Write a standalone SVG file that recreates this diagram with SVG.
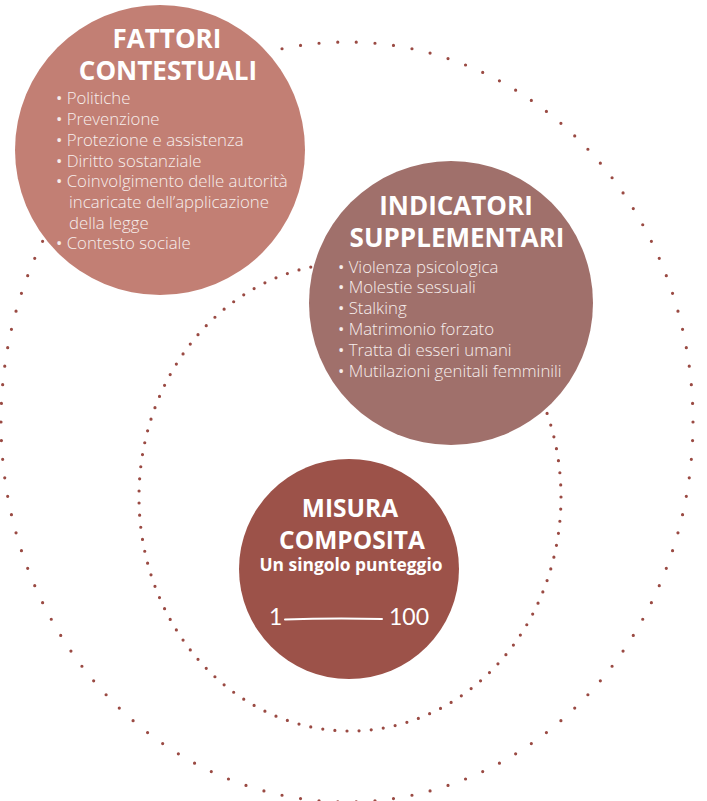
<svg xmlns="http://www.w3.org/2000/svg" width="707" height="801" viewBox="0 0 707 801">
<style>
.ring{fill:none;stroke:#9a4a43;stroke-width:3.2;stroke-linecap:round;stroke-dasharray:0 1}
.title{font-family:"Open Sans","Noto Sans",sans-serif;font-weight:700;fill:#ffffff;text-anchor:middle}
.item{font-family:"Open Sans","Noto Sans",sans-serif;font-weight:300;font-size:16.8px;fill:#f7eeec}
.b{font-weight:400}
.sub{font-family:"Open Sans","Noto Sans",sans-serif;font-weight:700;font-size:17.4px;fill:#ffffff;text-anchor:middle}
.hand{font-family:"Lato","Open Sans",sans-serif;font-weight:400;font-size:23px;fill:#ffffff}
</style>
<rect width="707" height="801" fill="#ffffff"/>
<g id="rings">
<ellipse class="ring" cx="347" cy="422" rx="346" ry="380" pathLength="122"/>
<ellipse class="ring" cx="350" cy="497" rx="211" ry="234" pathLength="115"/>
</g>
<g id="fattori">
<circle cx="160" cy="150" r="145" fill="#c27f74"/>
<text class="title" font-size="26"><tspan x="167" y="48">FATTORI</tspan><tspan x="168" y="80">CONTESTUALI</tspan></text>
<text class="item"><tspan x="56" y="104"><tspan class="b">•</tspan> Politiche</tspan><tspan x="56" y="124.5"><tspan class="b">•</tspan> Prevenzione</tspan><tspan x="56" y="145.5"><tspan class="b">•</tspan> Protezione e assistenza</tspan><tspan x="56" y="166.5"><tspan class="b">•</tspan> Diritto sostanziale</tspan><tspan x="56" y="187"><tspan class="b">•</tspan> Coinvolgimento delle autorità</tspan><tspan x="69" y="207.5">incaricate dell’applicazione</tspan><tspan x="69" y="228.5">della legge</tspan><tspan x="56" y="249"><tspan class="b">•</tspan> Contesto sociale</tspan></text>
</g>
<g id="indicatori">
<circle cx="451" cy="303" r="142" fill="#a0706b"/>
<text class="title" font-size="26"><tspan x="456" y="215">INDICATORI</tspan><tspan x="457" y="247">SUPPLEMENTARI</tspan></text>
<text class="item"><tspan x="338" y="272.5"><tspan class="b">•</tspan> Violenza psicologica</tspan><tspan x="338" y="293.3"><tspan class="b">•</tspan> Molestie sessuali</tspan><tspan x="338" y="314"><tspan class="b">•</tspan> Stalking</tspan><tspan x="338" y="335"><tspan class="b">•</tspan> Matrimonio forzato</tspan><tspan x="338" y="355.7"><tspan class="b">•</tspan> Tratta di esseri umani</tspan><tspan x="338" y="376.5"><tspan class="b">•</tspan> Mutilazioni genitali femminili</tspan></text>
</g>
<g id="misura">
<circle cx="349" cy="569" r="110" fill="#9c5249"/>
<text class="title" font-size="24.5"><tspan x="350" y="517">MISURA</tspan><tspan x="352" y="549">COMPOSITA</tspan><tspan x="351" y="571" font-size="17.4">Un singolo punteggio</tspan></text>
<text class="hand" x="269" y="625">1</text>
<path d="M285 619.5 Q330 618 382 619" fill="none" stroke="#ffffff" stroke-width="2" stroke-linecap="round"/>
<text class="hand" x="389" y="625">100</text>
</g>
</svg>
